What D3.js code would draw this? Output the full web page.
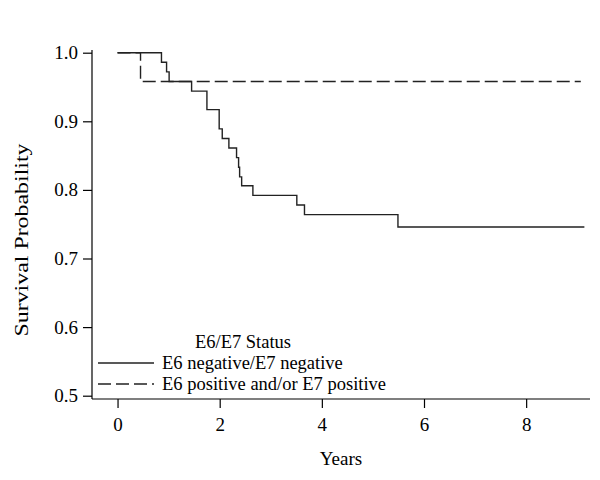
<!DOCTYPE html>
<html>
<head>
<meta charset="utf-8">
<script src="https://cdn.jsdelivr.net/npm/d3@7"></script>
<style>
  html, body { margin: 0; padding: 0; background: #fff; }
  svg { display: block; }
  text { font-family: "Liberation Serif", "Times New Roman", serif; fill: #000; }
</style>
</head>
<body>
<svg id="chart" width="600" height="480"></svg>
<script>
// Kaplan-Meier step data (time in years, survival probability after event)
const negTimes = [0, 0.86, 0.96, 1.01, 1.45, 1.75, 1.99, 2.05, 2.18, 2.33, 2.37, 2.39, 2.43, 2.65, 3.51, 3.66, 5.49, 9.14];
const negSurv  = [1.0, 0.986, 0.972, 0.958, 0.944, 0.917, 0.889, 0.875, 0.861, 0.847, 0.833, 0.819, 0.806, 0.792, 0.778, 0.764, 0.746, 0.746];
const posTimes = [0, 0.45, 9.07];
const posSurv  = [1.0, 0.958, 0.958];
const xTicks = [0, 2, 4, 6, 8];
const yTicks = [0.5, 0.6, 0.7, 0.8, 0.9, 1.0];
const legendTitle = "E6/E7 Status";
const seriesNames = ["E6 negative/E7 negative", "E6 positive and/or E7 positive"];

const svg = d3.select("#chart");
const x = d3.scaleLinear().domain([-0.5, 9.25]).range([92, 590]);
const y = d3.scaleLinear().domain([0.5, 1.0]).range([395.7, 52.7]);

// axes
const gx = svg.append("g").attr("transform", "translate(0,399)")
  .call(d3.axisBottom(x).tickValues(xTicks).tickFormat(d3.format("d")).tickSize(9).tickPadding(10).tickSizeOuter(0));
const gy = svg.append("g").attr("transform", "translate(92,0)")
  .call(d3.axisLeft(y).tickValues(yTicks).tickFormat(d3.format(".1f")).tickSize(9).tickPadding(5).tickSizeOuter(0));
[gx, gy].forEach(g => {
  g.select(".domain").remove();
  g.selectAll(".tick line").attr("stroke", "#000").attr("stroke-width", 1.2);
  g.selectAll(".tick text").style("font-size", "19px").attr("fill", "#000");
});
gx.selectAll(".tick text").attr("dy", "0.71em");
// axis lines
svg.append("line").attr("x1", 92).attr("x2", 590).attr("y1", 399).attr("y2", 399).attr("stroke", "#000").attr("stroke-width", 1.2);
svg.append("line").attr("x1", 92).attr("x2", 92).attr("y1", 50).attr("y2", 399).attr("stroke", "#000").attr("stroke-width", 1.2);

// curves
const line = d3.line().x(d => x(d[0])).y(d => y(d[1])).curve(d3.curveStepAfter);
const negData = negTimes.map((t, i) => [t, negSurv[i]]);
const posData = posTimes.map((t, i) => [t, posSurv[i]]);

svg.append("path").datum(posData).attr("d", line)
  .attr("fill", "none").attr("stroke", "#222").attr("stroke-width", 1.4)
  .attr("stroke-dasharray", "13,5");
svg.append("path").datum(negData).attr("d", line)
  .attr("fill", "none").attr("stroke", "#222").attr("stroke-width", 1.4);

// axis titles
svg.append("text").attr("x", 341).attr("y", 465).attr("text-anchor", "middle")
  .style("font-size", "19px").text("Years");
svg.append("text").attr("transform", "translate(28,240) rotate(-90)")
  .attr("text-anchor", "middle").style("font-size", "19px")
  .attr("textLength", 193).attr("lengthAdjust", "spacingAndGlyphs")
  .text("Survival Probability");

// legend
svg.append("text").attr("x", 243).attr("y", 348).attr("text-anchor", "middle")
  .style("font-size", "18.5px").text(legendTitle);
const legY = [369, 390];
seriesNames.forEach((name, i) => {
  svg.append("line").attr("x1", 98).attr("x2", 154)
    .attr("y1", legY[i] - 6).attr("y2", legY[i] - 6)
    .attr("stroke", "#222").attr("stroke-width", 1.4)
    .attr("stroke-dasharray", i === 1 ? "13,5" : null);
  svg.append("text").attr("x", 162).attr("y", legY[i])
    .style("font-size", "18.5px").text(name);
});
</script>
</body>
</html>
